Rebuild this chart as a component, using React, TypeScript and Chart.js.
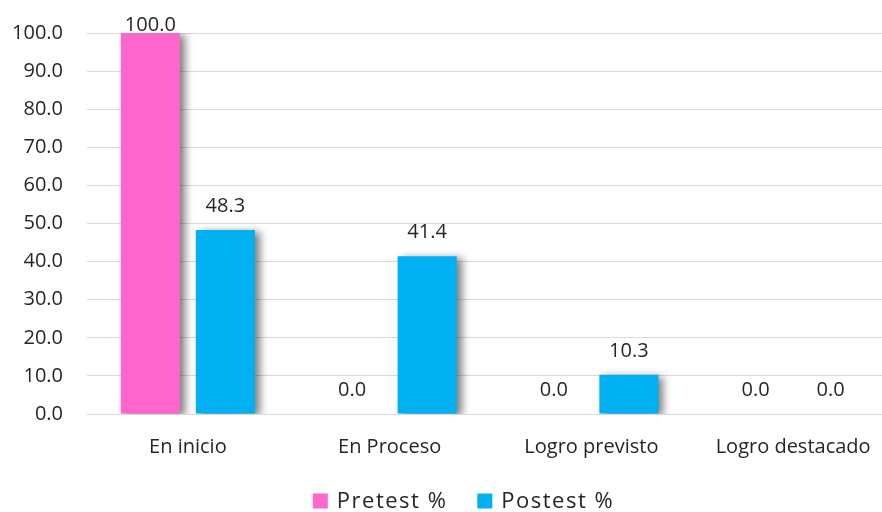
import React, { useEffect, useRef } from "react";
import { Chart, registerables } from "chart.js";

Chart.register(...registerables);

const categories = ["En inicio", "En Proceso", "Logro previsto", "Logro destacado"];
const pretestValues = [100.0, 0.0, 0.0, 0.0];
const postestValues = [48.3, 41.4, 10.3, 0.0];
const seriesLabels = ["Pretest %", "Postest %"];
const seriesColors = ["#FF66CC", "#00B0F0"];
const yMin = 0;
const yMax = 100;
const yStep = 10;

const FONT = "'Open Sans', sans-serif";
const TEXT = "#262626";

export default function App() {
  const ref = useRef<HTMLCanvasElement>(null);

  useEffect(() => {
    if (!ref.current) return;

    const decor = {
      id: "decor",
      beforeDatasetsDraw(chart: any) {
        const c = chart.ctx;
        c.save();
        c.shadowColor = "rgba(0,0,0,0.5)";
        c.shadowBlur = 8;
        c.shadowOffsetX = 5;
        c.shadowOffsetY = 2;
      },
      afterDatasetsDraw(chart: any) {
        const c = chart.ctx;
        c.restore();
        c.save();
        c.font = `20px ${FONT}`;
        c.fillStyle = TEXT;
        c.textAlign = "center";
        c.textBaseline = "alphabetic";
        chart.data.datasets.forEach((ds: any, i: number) => {
          const meta = chart.getDatasetMeta(i);
          meta.data.forEach((bar: any, j: number) => {
            const v = Number(ds.data[j]);
            const y = Math.max(bar.y - 18, chart.chartArea.top - 2);
            c.fillText(v.toFixed(1), bar.x, y);
          });
        });
        c.restore();
      },
      afterDraw(chart: any) {
        const c = chart.ctx;
        c.save();
        c.font = `22px ${FONT}`;
        (c as any).letterSpacing = "1.5px";
        c.textBaseline = "middle";
        c.textAlign = "left";
        const box = 15;
        const gap = 9;
        const between = 30;
        const items = chart.data.datasets.map((ds: any) => ({
          label: ds.label as string,
          color: ds.backgroundColor as string,
          w: box + gap + c.measureText(ds.label).width,
        }));
        const total =
          items.reduce((s: number, it: any) => s + it.w, 0) + between * (items.length - 1);
        let x = 463.5 - total / 2;
        const cy = 501;
        items.forEach((it: any) => {
          c.fillStyle = it.color;
          c.fillRect(x, cy - box / 2, box, box);
          c.fillStyle = TEXT;
          c.fillText(it.label, x + box + gap, cy + 1);
          x += it.w + between;
        });
        c.restore();
      },
    };

    const chart = new Chart(ref.current, {
      type: "bar",
      data: {
        labels: categories,
        datasets: [
          {
            label: seriesLabels[0],
            data: pretestValues,
            backgroundColor: seriesColors[0],
            categoryPercentage: 0.744,
            barPercentage: 0.787,
          },
          {
            label: seriesLabels[1],
            data: postestValues,
            backgroundColor: seriesColors[1],
            categoryPercentage: 0.744,
            barPercentage: 0.787,
          },
        ],
      },
      options: {
        responsive: false,
        animation: false,
        layout: { padding: { top: 33, right: 6, bottom: 46, left: 0 } },
        plugins: {
          legend: { display: false },
          tooltip: { enabled: false },
        },
        scales: {
          x: {
            grid: { display: false, drawTicks: false },
            border: { display: false },
            ticks: { color: TEXT, font: { family: FONT, size: 20 }, padding: 21 },
            afterFit(scale: any) {
              scale.height = 52;
            },
          },
          y: {
            min: yMin,
            max: yMax,
            grid: {
              color: "#D9D9D9",
              lineWidth: 1,
              drawTicks: true,
              tickLength: 24,
              tickColor: "rgba(0,0,0,0)",
            },
            border: { display: false },
            ticks: {
              stepSize: yStep,
              color: TEXT,
              font: { family: FONT, size: 20 },
              padding: 0,
              callback: (v: any) => Number(v).toFixed(1),
            },
            afterFit(scale: any) {
              scale.width = 87;
            },
          },
        },
      },
      plugins: [decor],
    });

    return () => chart.destroy();
  }, []);

  return (
    <div
      style={{
        position: "fixed",
        left: 0,
        top: 0,
        width: 882,
        height: 512,
        overflow: "hidden",
        background: "#fff",
      }}
    >
      <canvas ref={ref} width={900} height={512} style={{ display: "block" }} />
    </div>
  );
}
